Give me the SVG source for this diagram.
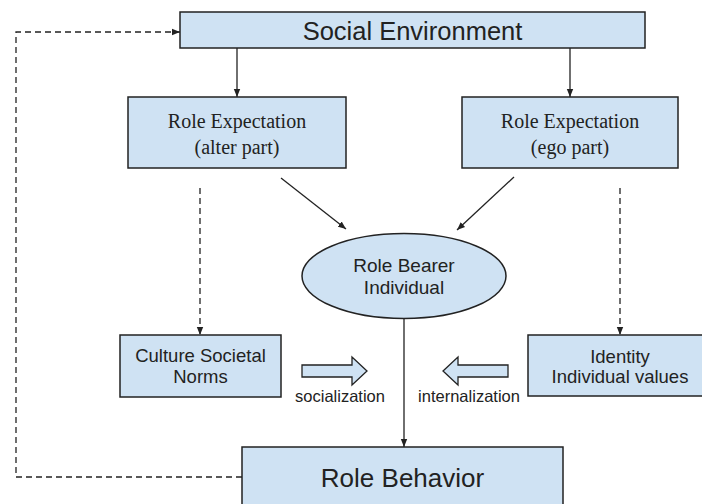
<svg xmlns="http://www.w3.org/2000/svg" width="702" height="504" viewBox="0 0 702 504">
  <style>
    .box { fill: #cfe2f3; stroke: #222; stroke-width: 1.5; }
    .sans { font-family: "Liberation Sans", Arial, sans-serif; fill: #222; text-anchor: middle; }
    .serif { font-family: "Liberation Serif", "Times New Roman", serif; fill: #222; text-anchor: middle; font-size: 20px; }
    .line { fill: none; stroke: #222; stroke-width: 1.3; }
    .dash { fill: none; stroke: #222; stroke-width: 1.3; stroke-dasharray: 6 4; }
    .block { fill: #cfe2f3; stroke: #222; stroke-width: 1.3; }
  </style>
  <defs>
    <marker id="head" viewBox="0 0 10 10" refX="10" refY="5" markerWidth="8" markerHeight="8" markerUnits="userSpaceOnUse" orient="auto">
      <path d="M0,1 L10,5 L0,9 Z" fill="#222"/>
    </marker>
  </defs>

  <rect width="702" height="504" fill="#ffffff"/>

  <!-- connectors -->
  <g id="connectors">
    <line class="line" x1="237" y1="48" x2="237" y2="97" marker-end="url(#head)"/>
    <line class="line" x1="570" y1="48" x2="570" y2="97" marker-end="url(#head)"/>
    <line class="line" x1="281" y1="178" x2="346" y2="229" marker-end="url(#head)"/>
    <line class="line" x1="514" y1="177" x2="457" y2="230" marker-end="url(#head)"/>
    <line class="dash" x1="200" y1="188" x2="200" y2="335" marker-end="url(#head)"/>
    <line class="dash" x1="620" y1="188" x2="620" y2="335" marker-end="url(#head)"/>
    <line class="line" x1="404" y1="318" x2="404" y2="447" marker-end="url(#head)"/>
    <path class="dash" d="M242,477 H16 V32 H180" marker-end="url(#head)"/>
    <!-- block arrows -->
    <path class="block" d="M302,365 H352 V357 L367,371 L352,385 V377 H302 Z"/>
    <path class="block" d="M508,365 H458 V357 L443,371 L458,385 V377 H508 Z"/>
    <text class="sans" x="340" y="402" font-size="16.5">socialization</text>
    <text class="sans" x="469" y="402" font-size="16.5">internalization</text>
  </g>

  <g id="social-environment">
    <rect class="box" x="180" y="12" width="465" height="36"/>
    <text class="sans" x="412.5" y="40" font-size="25.5">Social Environment</text>
  </g>

  <g id="role-expectation-alter">
    <rect class="box" x="128" y="97" width="218" height="71"/>
    <text class="serif" x="237" y="128">Role Expectation</text>
    <text class="serif" x="237" y="154">(alter part)</text>
  </g>

  <g id="role-expectation-ego">
    <rect class="box" x="462" y="97" width="216" height="71"/>
    <text class="serif" x="570" y="128">Role Expectation</text>
    <text class="serif" x="570" y="154">(ego part)</text>
  </g>

  <g id="role-bearer">
    <ellipse class="box" cx="404" cy="276" rx="102" ry="42.5"/>
    <text class="sans" x="404" y="272" font-size="19">Role Bearer</text>
    <text class="sans" x="404" y="294" font-size="19">Individual</text>
  </g>

  <g id="culture-norms">
    <rect class="box" x="120" y="335" width="161" height="62"/>
    <text class="sans" x="200.5" y="362" font-size="18.5">Culture Societal</text>
    <text class="sans" x="200.5" y="383" font-size="18.5">Norms</text>
  </g>

  <g id="identity-values">
    <rect class="box" x="528" y="335" width="184" height="61"/>
    <text class="sans" x="620" y="363" font-size="18.5">Identity</text>
    <text class="sans" x="620" y="383" font-size="18.5">Individual values</text>
  </g>

  <g id="role-behavior">
    <rect class="box" x="242" y="447" width="321" height="70"/>
    <text class="sans" x="402.5" y="487" font-size="26">Role Behavior</text>
  </g>
</svg>
